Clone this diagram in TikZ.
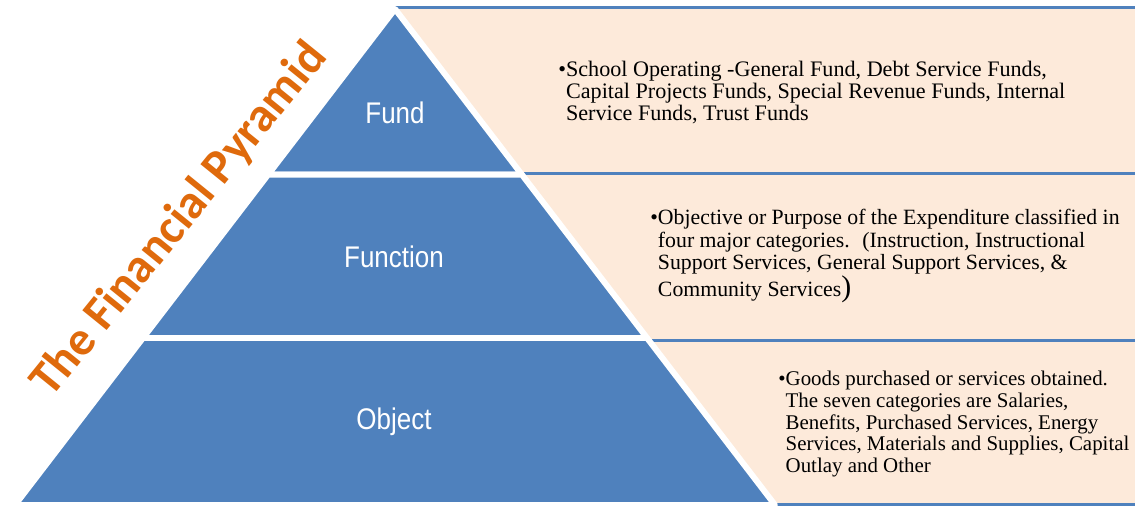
\documentclass[tikz,border=0pt]{standalone}
\usepackage{fontspec}
\setmainfont{Liberation Serif}
\newfontfamily\tierfont{Liberation Sans}
\newfontfamily\titlefont{Carlito}
\usetikzlibrary{calc}

\definecolor{tierblue}{HTML}{4F81BD}
\definecolor{panelpeach}{HTML}{FDEADA}
\definecolor{titleorange}{HTML}{DF6A0C}

\begin{document}
\begin{tikzpicture}[x=0.02cm,y=-0.02cm,
  tier/.style={fill=tierblue, draw=white, line width=3.4pt, line join=round},
  panel/.style={fill=panelpeach},
  panelrule/.style={draw=tierblue, line width=1.7pt},
  tierlabel/.style={text=white, font=\tierfont\fontsize{17}{20}\selectfont, xscale=0.87, inner sep=0pt},
  bodytext/.style={align=left, inner sep=0pt, text=black},
  titletext/.style={font=\titlefont\bfseries\fontsize{27.5}{30}\selectfont, rotate=51, inner sep=0pt, anchor=base}
]
\useasboundingbox[fill=white] (0,0) rectangle (1135,508);

% pyramid corners and tier boundaries
\coordinate (A)  at (395,9);
\coordinate (BL) at (15,505);
\coordinate (BR) at (775,505);
\coordinate (L1) at ($(A)!0.3337!(BL)$);
\coordinate (R1) at ($(A)!0.3337!(BR)$);
\coordinate (L2) at ($(A)!0.6633!(BL)$);
\coordinate (R2) at ($(A)!0.6633!(BR)$);

% description panels behind the pyramid
\fill[panel] (395,9) rectangle (1135,174.5);
\fill[panel] (395,174.5) rectangle (1135,339);
\fill[panel] (395,339) rectangle (1135,504);
\draw[panelrule] (395,7.5) -- (1135,7.5);
\draw[panelrule] (395,173.5) -- (1135,173.5);
\draw[panelrule] (395,340) -- (1135,340);
\draw[panelrule] (395,504.5) -- (1135,504.5);

% pyramid tiers
\draw[tier] (A) -- (R1) -- (L1) -- cycle;
\draw[tier] (L1) -- (R1) -- (R2) -- (L2) -- cycle;
\draw[tier] (L2) -- (R2) -- (BR) -- (BL) -- cycle;

\node[tierlabel] (fund) at (395,113) {Fund};
\node[tierlabel] (function) at (394,257) {Function};
\node[tierlabel] (object) at (394,422) {Object};

% title along the left face
\node[titletext, text=titleorange] (title) at (190,228) {The Financial Pyramid};

% descriptions
\node[bodytext, anchor=north west, font=\fontsize{12.6}{12.6}\selectfont] (fundtext) at (558,61)
  {\textbullet School Operating -General Fund, Debt Service Funds,\\
   \hphantom{\textbullet}Capital Projects Funds, Special Revenue Funds, Internal\\
   \hphantom{\textbullet}Service Funds, Trust Funds};
\node[bodytext, anchor=north west, font=\fontsize{12.4}{12.8}\selectfont] (functiontext) at (650,209)
  {\textbullet Objective or Purpose of the Expenditure classified in\\
   \hphantom{\textbullet}four major categories.~ (Instruction, Instructional\\
   \hphantom{\textbullet}Support Services, General Support Services, \&\\
   \hphantom{\textbullet}Community Services{\fontsize{17}{17}\selectfont )}};
\node[bodytext, anchor=north west, font=\fontsize{11.9}{12.3}\selectfont] (objecttext) at (778,371)
  {\textbullet Goods purchased or services obtained.\\
   \hphantom{\textbullet}The seven categories are Salaries,\\
   \hphantom{\textbullet}Benefits, Purchased Services, Energy\\
   \hphantom{\textbullet}Services, Materials and Supplies, Capital\\
   \hphantom{\textbullet}Outlay and Other};
\end{tikzpicture}
\end{document}
